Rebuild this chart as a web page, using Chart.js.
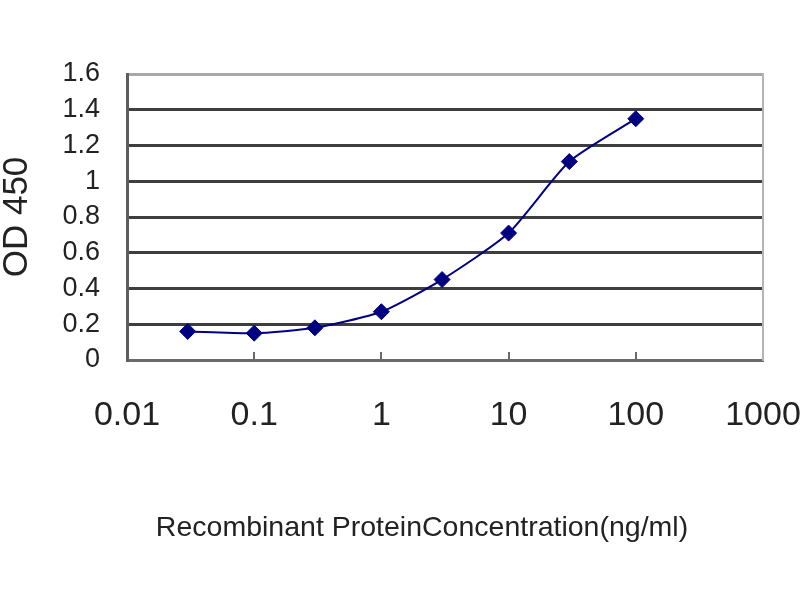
<!DOCTYPE html>
<html>
<head>
<meta charset="utf-8">
<title>OD 450 vs concentration</title>
<script src="https://cdn.jsdelivr.net/npm/chart.js@4.4.1/dist/chart.umd.min.js"></script>
<style>
    html, body { margin: 0; padding: 0; background: #fff; }
    #wrap { width: 800px; height: 600px; }
</style>
</head>
<body>
<div id="wrap"><canvas id="elisa-chart"></canvas></div>
<script>
// concentration (ng/ml) and measured OD 450
const concentrations = [0.03, 0.1, 0.3, 1, 3, 10, 30, 100];
const odValues = [0.16, 0.15, 0.18, 0.27, 0.45, 0.71, 1.11, 1.35];

// axis ticks
const xTickValues = [0.01, 0.1, 1, 10, 100, 1000];
const xTickLabels = ['0.01', '0.1', '1', '10', '100', '1000'];
const yTickValues = [0, 0.2, 0.4, 0.6, 0.8, 1, 1.2, 1.4, 1.6];
const yTickLabels = ['0', '0.2', '0.4', '0.6', '0.8', '1', '1.2', '1.4', '1.6'];

const NAVY = '#000080';
const TEXT = '#222222';
const FONT = "'Liberation Sans', Arial, sans-serif";
const LEFT_PAD = 44; // shifts the bottom caption's centre to the left of the plot centre

function labelFor(values, labels, v) {
    const i = values.findIndex(t => Math.abs(t - v) < 1e-9);
    return i >= 0 ? labels[i] : '';
}

const ctx = document.getElementById('elisa-chart');

new Chart(ctx, {
    type: 'line',
    data: {
        datasets: [{
            label: 'OD 450',
            data: concentrations.map((c, i) => ({ x: c, y: odValues[i] })),
            borderColor: NAVY,
            backgroundColor: NAVY,
            borderWidth: 2,
            tension: 0.2,
            pointStyle: 'rectRot',
            pointRadius: 8,
            pointBorderWidth: 1,
            pointBorderColor: NAVY,
            pointBackgroundColor: NAVY,
            clip: false
        }]
    },
    options: {
        responsive: true,
        maintainAspectRatio: false,
        animation: false,
        devicePixelRatio: 1,
        layout: { padding: { top: 74, right: 0, bottom: 0, left: LEFT_PAD } },
        plugins: {
            legend: { display: false },
            tooltip: { enabled: false },
            title: {
                display: true,
                position: 'bottom',
                text: 'Recombinant ProteinConcentration(ng/ml)',
                color: TEXT,
                font: { family: FONT, size: 28.5, weight: 'normal', lineHeight: 1 },
                padding: { top: 0, bottom: 58 }
            }
        },
        scales: {
            x: {
                type: 'logarithmic',
                position: 'bottom',
                min: 0.01,
                max: 1000,
                afterBuildTicks: (scale) => {
                    scale.ticks = xTickValues.map(v => ({ value: v }));
                },
                afterFit: (scale) => {
                    // keep the edge labels from shrinking the plot area
                    scale.height = 153.5;
                    scale.paddingLeft = 0;
                    scale.paddingRight = 0;
                },
                border: { display: true, color: '#6a6a6a', width: 3 },
                grid: {
                    display: true,
                    drawOnChartArea: false,
                    drawTicks: true,
                    tickLength: -8,
                    color: '#6a6a6a',
                    lineWidth: 2
                },
                ticks: {
                    autoSkip: false,
                    maxRotation: 0,
                    padding: 47,
                    color: TEXT,
                    font: { family: FONT, size: 34, lineHeight: 1 },
                    callback: (v) => labelFor(xTickValues, xTickLabels, v)
                }
            },
            y: {
                type: 'linear',
                position: 'left',
                min: 0,
                max: 1.6,
                afterBuildTicks: (scale) => {
                    scale.ticks = yTickValues.map(v => ({ value: v }));
                },
                afterFit: (scale) => { scale.width = 127 - LEFT_PAD; },
                border: { display: true, color: '#5e5e5e', width: 3 },
                grid: {
                    drawTicks: false,
                    lineWidth: 3,
                    color: (c) => (c.tick && Math.abs(c.tick.value - 1.6) < 1e-9) ? '#a8a8a8' : '#3e3e3e'
                },
                ticks: {
                    padding: 27,
                    color: TEXT,
                    font: { family: FONT, size: 27, lineHeight: 1 },
                    callback: (v) => labelFor(yTickValues, yTickLabels, v)
                },
                title: {
                    display: true,
                    text: 'OD 450',
                    color: TEXT,
                    font: { family: FONT, size: 35, lineHeight: 1 },
                    padding: { top: -LEFT_PAD, bottom: 0 }
                }
            },
            frame: {
                type: 'linear',
                position: 'right',
                min: 0,
                max: 1.6,
                afterFit: (scale) => { scale.width = 37; },
                border: { display: true, color: '#b4b4b4', width: 2 },
                grid: { display: false },
                ticks: { display: false }
            }
        }
    }
});
</script>
</body>
</html>
